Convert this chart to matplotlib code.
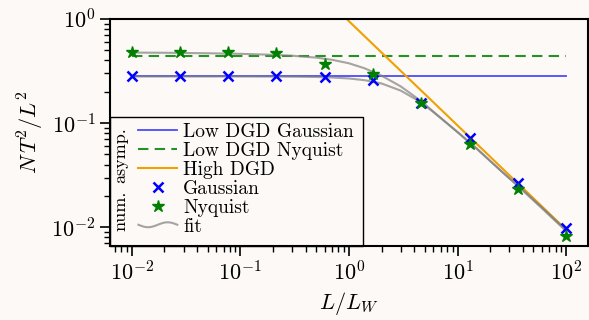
import numpy as np
import matplotlib
matplotlib.use('Agg')
import matplotlib.pyplot as plt
from matplotlib.lines import Line2D
from matplotlib.legend_handler import HandlerBase
from matplotlib.patches import Rectangle

plt.rcParams['font.family'] = 'serif'
plt.rcParams['font.serif'] = ['cmr10', 'DejaVu Serif']
plt.rcParams['mathtext.fontset'] = 'cm'
plt.rcParams['axes.formatter.use_mathtext'] = True

bg = '#fcf9f6'

# numerical points
L_ratio = [0.01, 0.0278, 0.0774, 0.215, 0.599, 1.67, 4.64, 12.9, 35.9, 100]
gauss_num = [0.28, 0.28, 0.28, 0.28, 0.277, 0.258, 0.156, 0.072, 0.0265, 0.0098]
nyq_num = [0.48, 0.48, 0.48, 0.475, 0.37, 0.296, 0.155, 0.063, 0.0232, 0.0082]

# asymptotes
asym_x = [0.01, 100]
low_gauss = [0.28, 0.28]
low_nyq = [0.443, 0.443]
high_dgd = [95.0, 0.0095]

# fit curves
fit_x = [0.01, 0.02, 0.05, 0.1, 0.2, 0.3, 0.5, 0.7, 1.0, 1.4, 2.0, 3.0, 4.64, 7, 10, 15, 25, 40, 60, 100]
fit_gauss = [0.28, 0.28, 0.28, 0.28, 0.2795, 0.279, 0.277, 0.274, 0.268, 0.258, 0.24, 0.205,
	0.158, 0.112, 0.082, 0.057, 0.035, 0.0228, 0.0155, 0.0094]
fit_nyq = [0.475, 0.473, 0.468, 0.462, 0.452, 0.443, 0.425, 0.405, 0.375, 0.335, 0.285, 0.225,
	0.162, 0.112, 0.082, 0.057, 0.035, 0.0225, 0.0152, 0.0092]


class HandlerWave(HandlerBase):
	def create_artists(self, legend, orig_handle, xdescent, ydescent, width, height, fontsize, trans):
		t = np.linspace(0, 1, 40)
		xs = -xdescent + t * width
		ys = height / 2 - ydescent + 0.18 * height * np.sin(2 * np.pi * t + np.pi)
		ln = Line2D(xs, ys, color=orig_handle.get_color(), lw=orig_handle.get_linewidth(),
			alpha=orig_handle.get_alpha(), transform=trans)
		return [ln]


fig = plt.figure(figsize=(5.89, 3.2), dpi=100, facecolor=bg)
ax = fig.add_axes([0.1868, 0.231, 0.8112, 0.71])
ax.set_facecolor(bg)

h1, = ax.plot(asym_x, low_gauss, color='blue', alpha=0.7, lw=1.3, label='Low DGD Gaussian')
h2, = ax.plot(asym_x, low_nyq, color='green', ls=(0, (5, 3)), lw=1.5, alpha=0.85, label='Low DGD Nyquist')
h3, = ax.plot(asym_x, high_dgd, color='#f0a000', lw=1.5, label='High DGD')
hf, = ax.plot(fit_x, fit_gauss, color='gray', alpha=0.7, lw=1.5, label='fit')
ax.plot(fit_x, fit_nyq, color='gray', alpha=0.7, lw=1.5)
h4, = ax.plot(L_ratio, gauss_num, 'x', color='blue', ms=7, mew=1.8, label='Gaussian')
h5, = ax.plot(L_ratio, nyq_num, '*', color='green', ms=9, label='Nyquist')

ax.set_xscale('log')
ax.set_yscale('log')
ax.set_xlim(10**-2.2, 10**2.2)
ax.set_ylim(10**-2.18, 1)

for s in ax.spines.values():
	s.set_linewidth(1.5)
ax.tick_params(which='major', length=7, width=1.2, labelsize=16)
ax.tick_params(which='minor', length=4, width=1.0)

ax.set_xlabel('$L/L_W$', fontsize=16)
ax.set_ylabel('$N\\,T^2/L^2$', fontsize=16)

leg = ax.legend([h1, h2, h3, h4, h5, hf],
	['Low DGD Gaussian', 'Low DGD Nyquist', 'High DGD', 'Gaussian', 'Nyquist', 'fit'],
	loc='lower left', bbox_to_anchor=(0.035, -0.005), frameon=False, fontsize=14,
	handlelength=2.0, handletextpad=0.3, labelspacing=0.05, borderpad=0.1,
	handler_map={hf: HandlerWave()})

fig.canvas.draw()
bb = leg.get_window_extent().transformed(ax.transAxes.inverted())
ax.add_patch(Rectangle((0, 0), bb.x1 + 0.016, bb.y1 + 0.018, transform=ax.transAxes,
	facecolor='none', edgecolor='black', lw=1.0, zorder=4, clip_on=False))

ax.text(0.022, 0.40, 'asymp.', transform=ax.transAxes, rotation=90, fontsize=13,
	ha='center', va='center')
ax.text(0.022, 0.155, 'num.', transform=ax.transAxes, rotation=90, fontsize=13,
	ha='center', va='center')

fig.savefig('out.png', dpi=100, facecolor=bg)
